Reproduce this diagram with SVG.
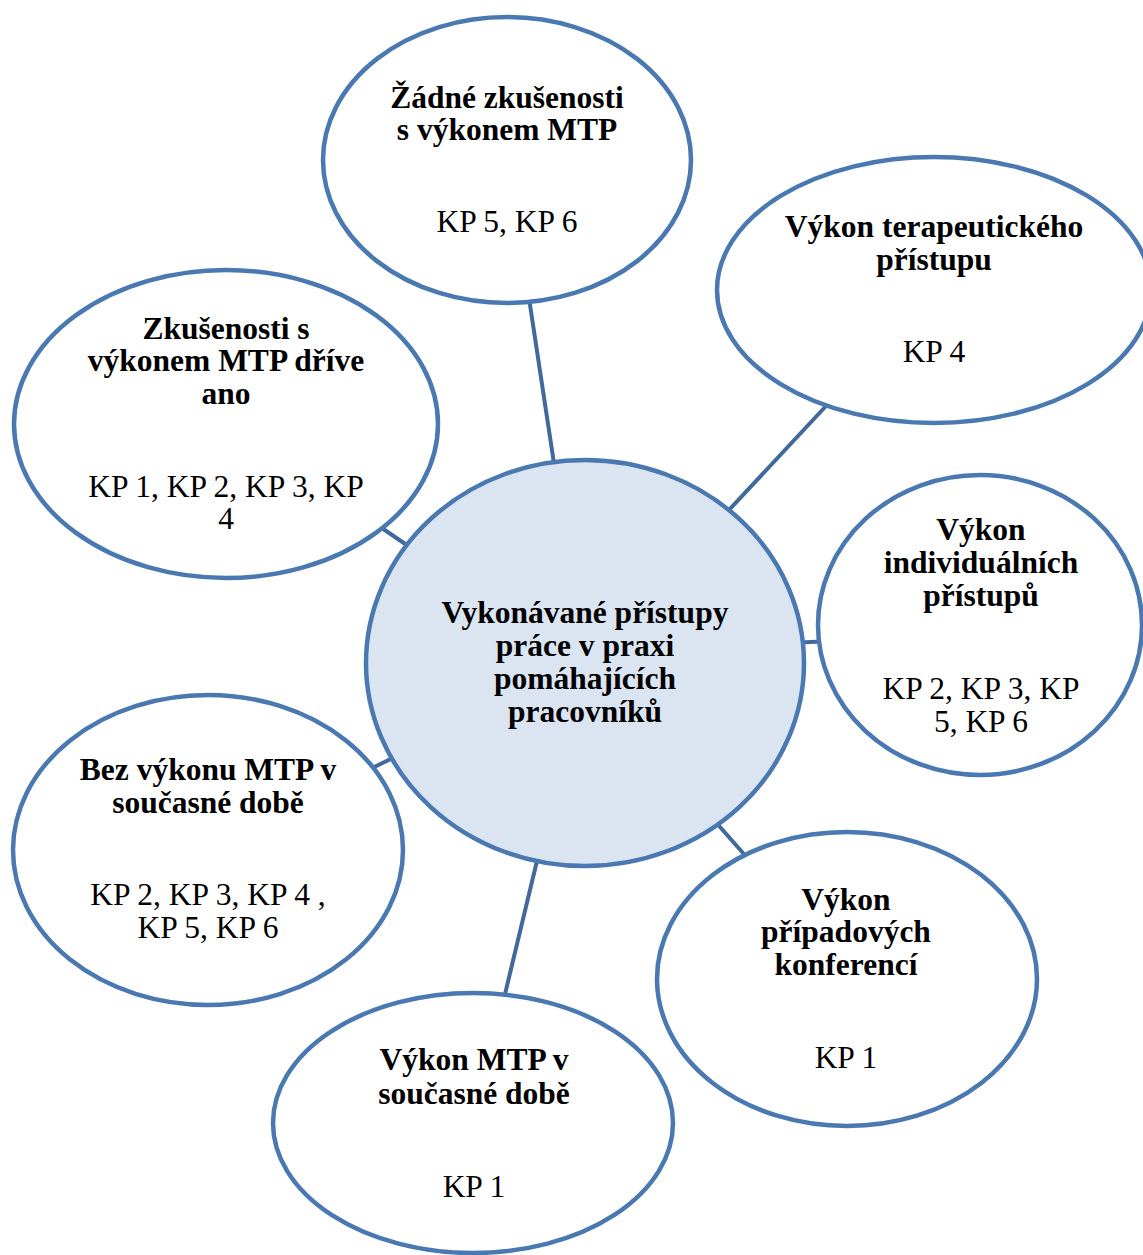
<svg xmlns="http://www.w3.org/2000/svg" width="1143" height="1255" viewBox="0 0 1143 1255">
<style>
.bg{fill:#ffffff}
.node{fill:#ffffff;stroke:#4a78b0;stroke-width:4.5}
.hub{fill:#dbe5f1;stroke:#4a78b0;stroke-width:4.5}
.conn{stroke:#41699c;stroke-width:4;fill:none}
.t{font-family:"Liberation Serif","Times New Roman",serif;font-size:31.5px;fill:#000;text-anchor:middle}
.b{font-weight:bold}
</style>
<rect class="bg" x="0" y="0" width="1143" height="1255"/>
<g id="connectors">
<line class="conn" x1="527" y1="285" x2="558" y2="490"/>
<line class="conn" x1="840" y1="391" x2="715" y2="525"/>
<line class="conn" x1="370" y1="520" x2="420" y2="554"/>
<line class="conn" x1="790" y1="643" x2="832" y2="641"/>
<line class="conn" x1="360" y1="774" x2="405" y2="752"/>
<line class="conn" x1="542" y1="840" x2="500" y2="1015"/>
<line class="conn" x1="705" y1="810" x2="758" y2="870"/>
</g>
<g id="node-top">
<ellipse class="node" cx="507" cy="160" rx="184" ry="143"/>
<text class="t b" x="507" y="108">Žádné zkušenosti</text>
<text class="t b" x="507" y="140">s výkonem MTP</text>
<text class="t" x="507" y="232">KP 5, KP 6</text>
</g>
<g id="node-topright">
<ellipse class="node" cx="934" cy="290" rx="217" ry="133"/>
<text class="t b" x="934" y="237">Výkon terapeutického</text>
<text class="t b" x="934" y="270">přístupu</text>
<text class="t" x="934" y="362">KP 4</text>
</g>
<g id="node-lefttop">
<ellipse class="node" cx="226" cy="424" rx="212" ry="154"/>
<text class="t b" x="226" y="339">Zkušenosti s</text>
<text class="t b" x="226" y="371">výkonem MTP dříve</text>
<text class="t b" x="226" y="404">ano</text>
<text class="t" x="226" y="497">KP 1, KP 2, KP 3, KP</text>
<text class="t" x="226" y="529">4</text>
</g>
<g id="node-right">
<ellipse class="node" cx="980" cy="625" rx="162" ry="150"/>
<text class="t b" x="981" y="540">Výkon</text>
<text class="t b" x="981" y="573">individuálních</text>
<text class="t b" x="981" y="606">přístupů</text>
<text class="t" x="981" y="699">KP 2, KP 3, KP</text>
<text class="t" x="981" y="732">5, KP 6</text>
</g>
<g id="node-leftbottom">
<ellipse class="node" cx="208" cy="850" rx="195" ry="155"/>
<text class="t b" x="208" y="780">Bez výkonu MTP v</text>
<text class="t b" x="208" y="813">současné době</text>
<text class="t" x="208" y="905">KP 2, KP 3, KP 4 ,</text>
<text class="t" x="208" y="938">KP 5, KP 6</text>
</g>
<g id="node-bottomright">
<ellipse class="node" cx="847" cy="979" rx="190" ry="147"/>
<text class="t b" x="846" y="910">Výkon</text>
<text class="t b" x="846" y="942">případových</text>
<text class="t b" x="846" y="975">konferencí</text>
<text class="t" x="846" y="1068">KP 1</text>
</g>
<g id="node-bottom">
<ellipse class="node" cx="473" cy="1123" rx="200" ry="130"/>
<text class="t b" x="474" y="1070">Výkon MTP v</text>
<text class="t b" x="474" y="1104">současné době</text>
<text class="t" x="474" y="1197">KP 1</text>
</g>
<g id="node-center">
<ellipse class="hub" cx="585" cy="663" rx="219" ry="203"/>
<text class="t b" x="585" y="623">Vykonávané přístupy</text>
<text class="t b" x="585" y="656">práce v praxi</text>
<text class="t b" x="585" y="689">pomáhajících</text>
<text class="t b" x="585" y="722">pracovníků</text>
</g>
</svg>
